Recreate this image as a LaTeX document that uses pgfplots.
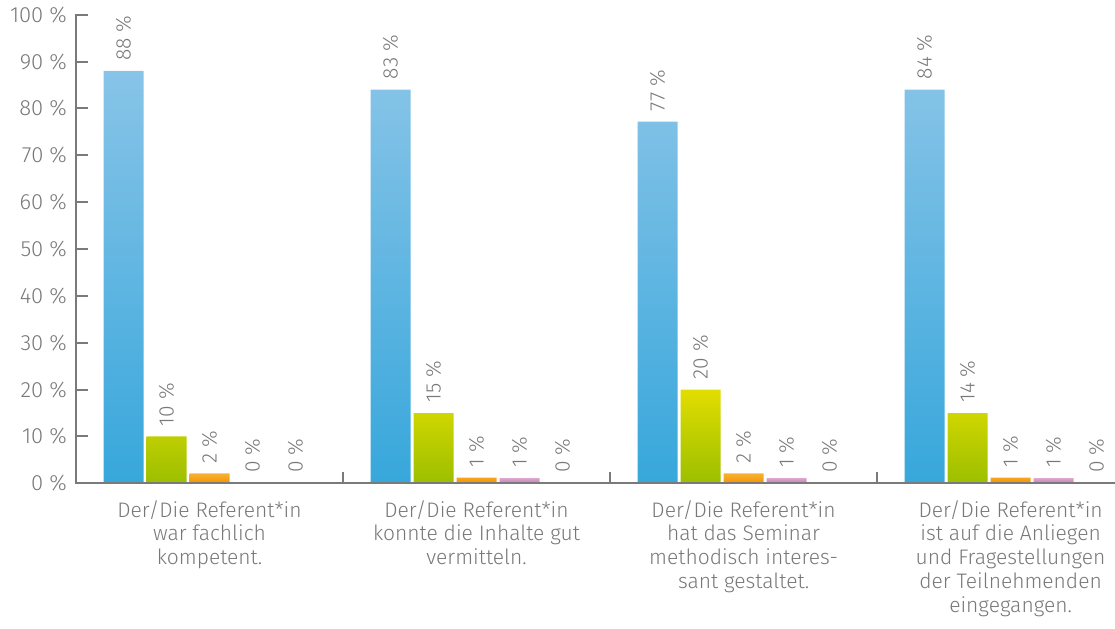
\documentclass[border=0pt]{standalone}
\usepackage{pgfplots}
\pgfplotsset{compat=1.18}
\usepackage{fontspec}
\setmainfont{Fira Sans}[UprightFont=* Light]
\definecolor{txt}{HTML}{787878}
\definecolor{axisgray}{HTML}{7A7A7A}
\definecolor{blueT}{HTML}{88C4E8}
\definecolor{blueB}{HTML}{37A7DB}
\definecolor{greenT}{HTML}{E2DD00}
\definecolor{greenB}{HTML}{9BBF00}
\definecolor{orangeT}{HTML}{F8B233}
\definecolor{orangeB}{HTML}{F39200}
\definecolor{pinkT}{HTML}{DDA6D1}
\definecolor{pinkB}{HTML}{C57AB4}
\begin{document}
\begin{tikzpicture}
\path[use as bounding box] (-38pt,-72.35pt) rectangle (519.5pt,241.65pt);
\begin{axis}[
  at={(0,0)}, anchor=south west,
  scale only axis, width=519.5pt, height=234.3pt,
  xmin=-0.5, xmax=3.391, ymin=0, ymax=100,
  axis line style={draw=none},
  xtick pos=bottom, ytick pos=left,
  major tick length=0pt, minor tick length=0pt,
  tick style={draw=none},
  ytick={0,10,...,100},
  yticklabels={0 \%,10 \%,20 \%,30 \%,40 \%,50 \%,60 \%,70 \%,80 \%,90 \%,100 \%},
  yticklabel style={text=txt, xshift=-1pt, font=\fontsize{11}{13}\selectfont},
  xtick={0,1,2,3},
  xticklabels={{Der/Die Referent*in\\war fachlich\\kompetent.},
               {Der/Die Referent*in\\konnte die Inhalte gut\\vermitteln.},
               {Der/Die Referent*in\\hat das Seminar\\methodisch interes-\\sant gestaltet.},
               {Der/Die Referent*in\\ist auf die Anliegen\\und Fragestellungen\\der Teilnehmenden\\eingegangen.}},
  xticklabel style={align=center, text=txt, yshift=-5pt, font=\fontsize{10.5}{11.85}\selectfont},
  ybar=1.5pt, bar width=20pt,
  nodes near coords, point meta=explicit symbolic,
  every node near coord/.append style={rotate=90, anchor=west, text=txt, inner xsep=5pt, inner ysep=0pt},
  clip=false,
  font=\fontsize{10.5}{12}\selectfont,
]
\addplot[draw=none, top color=blueT, bottom color=blueB]
  coordinates {(0,88)[88 \%] (1,84)[83 \%] (2,77.2)[77 \%] (3,84)[84 \%]};
\addplot[draw=none, top color=greenT, bottom color=greenB]
  coordinates {(0,10)[10 \%] (1,15)[15 \%] (2,20)[20 \%] (3,15)[14 \%]};
\addplot[draw=none, top color=orangeT, bottom color=orangeB]
  coordinates {(0,2.1)[2 \%] (1,1.2)[1 \%] (2,2.1)[2 \%] (3,1.2)[1 \%]};
\addplot[draw=none, top color=pinkT, bottom color=pinkB]
  coordinates {(0,0)[0 \%] (1,1.1)[1 \%] (2,1.1)[1 \%] (3,1.1)[1 \%]};
\addplot[draw=none, fill=white]
  coordinates {(0,0)[0 \%] (1,0)[0 \%] (2,0)[0 \%] (3,0)[0 \%]};
\draw[axisgray, line width=1pt] (rel axis cs:0,1) -- (rel axis cs:0,0) -- (rel axis cs:1,0);
\pgfplotsinvokeforeach{0.5,1.5,2.5}{\draw[axisgray, line width=1pt] (axis cs:#1,0) -- ++(0pt,5.5pt);}
\pgfplotsinvokeforeach{0,10,20,30,40,50,60,70,80,90,100}{\draw[axisgray, line width=1pt] (axis cs:-0.505,#1) -- (axis cs:-0.455,#1);}
\end{axis}
\end{tikzpicture}
\end{document}
